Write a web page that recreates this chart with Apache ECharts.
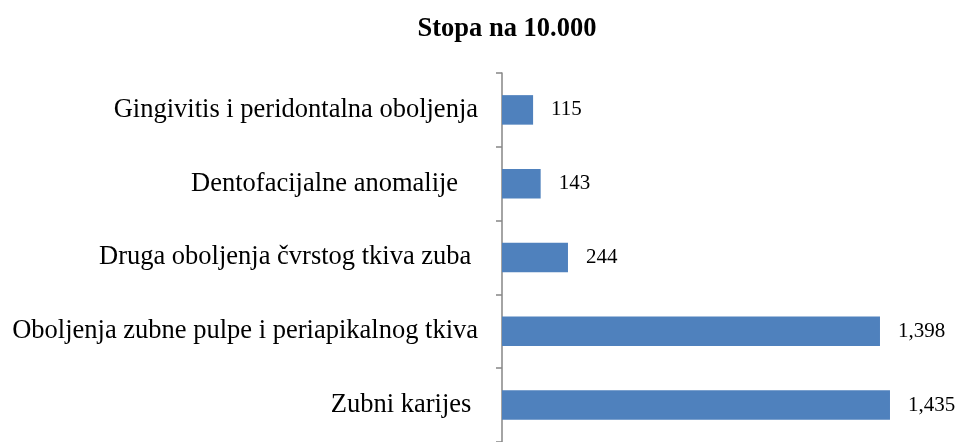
<!DOCTYPE html>
<html><head><meta charset="utf-8">
<script src="https://cdn.jsdelivr.net/npm/echarts@6/dist/echarts.min.js"></script>
<style>html,body{margin:0;padding:0;background:#fff}#c{width:960px;height:442px}</style>
</head><body><div id="c"></div>
<script>
const title = 'Stopa na 10.000';
const categories = ['Gingivitis i peridontalna oboljenja', 'Dentofacijalne anomalije   ', 'Druga oboljenja čvrstog tkiva zuba ', 'Oboljenja zubne pulpe i periapikalnog tkiva', 'Zubni karijes '];
const values = [115, 143, 244, 1398, 1435];

const chart = echarts.init(document.getElementById('c'));
chart.setOption({
  animation: false,
  title: {text: title, left: 502, top: 11, textAlign: 'center',
    textStyle: {fontFamily: 'Liberation Serif', fontWeight: 'bold', fontSize: 26.5, color: '#000'}},
  grid: {left: 502, top: 73, width: 432.6, height: 376},
  xAxis: {type: 'value', min: 0, max: 1600, show: false},
  yAxis: {type: 'category', data: categories, inverse: true,
    axisLine: {lineStyle: {color: '#868686', width: 1.5}},
    axisTick: {show: true, length: 6, lineStyle: {color: '#868686', width: 1.5}},
    axisLabel: {margin: 24, fontFamily: 'Liberation Serif', fontSize: 26.5, color: '#000'}},
  series: [{type: 'bar', data: values, barWidth: '40%',
    itemStyle: {color: '#4F81BD'},
    label: {show: true, position: 'right', distance: 18, fontFamily: 'Liberation Serif', fontSize: 21, color: '#000',
      formatter: p => p.value.toLocaleString('en-US')}}]
});
</script></body></html>
